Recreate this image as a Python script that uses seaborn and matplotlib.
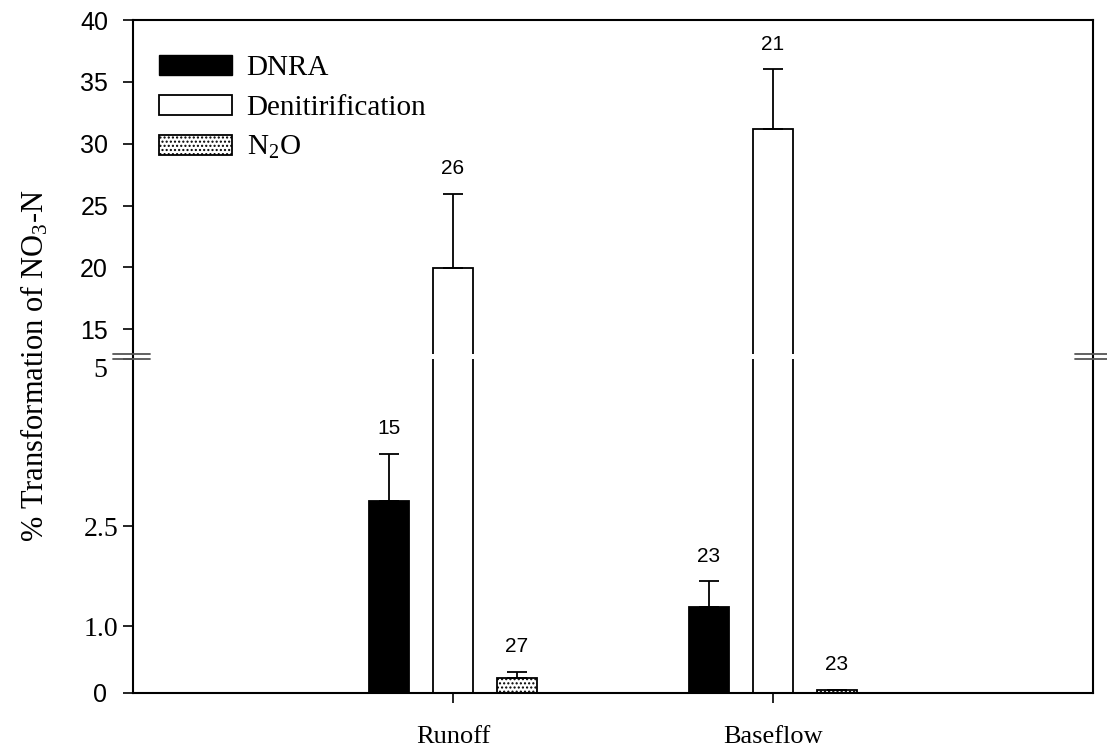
import numpy as np
import pandas as pd
import matplotlib
matplotlib.use("Agg")
import matplotlib.pyplot as plt
import matplotlib.transforms as mtransforms
import seaborn as sns
from matplotlib.patches import Patch
from matplotlib.lines import Line2D

# ---------------- data ----------------
categories = ["Runoff", "Baseflow"]
processes = ["DNRA", "Denitirification", "N2O"]
dnra = [2.88, 1.28]
dnra_se = [0.70, 0.39]
denit = [19.95, 31.2]
denit_se = [6.0, 4.8]
n2o = [0.22, 0.04]
n2o_se = [0.10, 0.01]
n_dnra = [15, 23]
n_denit = [26, 21]
n_n2o = [27, 23]
legend_labels = ["DNRA", "Denitirification", "N$_2$O"]
ylabel = "% Transformation of NO$_3$-N"
upper_ticks = [15, 20, 25, 30, 35, 40]
lower_ticks = [0, 1.0, 2.5, 5]
lower_ticklabels = ["0", "1.0", "2.5", "5"]

values = {"DNRA": dnra, "Denitirification": denit, "N2O": n2o}
errors = {"DNRA": dnra_se, "Denitirification": denit_se, "N2O": n2o_se}
counts = {"DNRA": n_dnra, "Denitirification": n_denit, "N2O": n_n2o}

rows = []
for p in processes:
    for i, c in enumerate(categories):
        rows.append({"site": c, "process": p, "value": values[p][i]})
df = pd.DataFrame(rows)

# ---------------- style ----------------
sns.set_style("ticks")
plt.rcParams["font.family"] = ["Liberation Serif", "DejaVu Serif"]
plt.rcParams["mathtext.fontset"] = "custom"
plt.rcParams["mathtext.rm"] = "Liberation Serif"
plt.rcParams["mathtext.it"] = "Liberation Serif:italic"
for k in ["text.color", "axes.labelcolor", "xtick.color", "ytick.color", "axes.edgecolor"]:
    plt.rcParams[k] = "black"
plt.rcParams["hatch.linewidth"] = 1.0
plt.rcParams["hatch.color"] = "#444444"

palette = {"DNRA": "black", "Denitirification": "white", "N2O": "white"}

fig = plt.figure(figsize=(11.07, 7.48), dpi=100)
L, W = 133 / 1107, 960 / 1107
H = 334 / 748
bot_y = (748 - 693) / 748
top_y = (748 - 354) / 748
ax_top = fig.add_axes([L, top_y, W, H])
ax_bot = fig.add_axes([L, bot_y, W, H])

for ax in (ax_top, ax_bot):
    sns.barplot(data=df, x="site", y="value", hue="process", order=categories,
                hue_order=processes, palette=palette, edgecolor="black",
                linewidth=1.3, width=0.6, gap=0.39, errorbar=None, legend=False,
                saturation=1, ax=ax)
    for cont, proc in zip(ax.containers, processes):
        if proc == "N2O":
            for bar in cont:
                bar.set_hatch("....")
    ax.set_xlim(-1, 2)
    ax.set_xlabel("")
    ax.set_ylabel("")
    ax.tick_params(axis="both", direction="out", length=7, width=1.2)
    for s in ax.spines.values():
        s.set_linewidth(1.5)

# errors and n labels
for cont, proc in zip(ax_bot.containers, processes):
    for bar in cont:
        xc = bar.get_x() + bar.get_width() / 2
        ci = int(round(xc))
        val = values[proc][ci]
        err = errors[proc][ci]
        target = ax_top if val > 5 else ax_bot
        target.errorbar(xc, val, yerr=[[0], [err]], fmt="none", ecolor="black",
                        elinewidth=1.3, capsize=7, capthick=1.3, zorder=3)
        target.annotate(str(counts[proc][ci]), (xc, val + err), xytext=(0, 18),
                        textcoords="offset points", ha="center", va="center",
                        fontfamily="Liberation Sans", fontsize=15)

# upper axis
ax_top.set_ylim(13, 40)
ax_top.set_yticks(upper_ticks)
ax_top.set_yticklabels([str(t) for t in upper_ticks], fontfamily="Liberation Sans", fontsize=18)
ax_top.tick_params(axis="y", pad=11)
ax_top.spines["bottom"].set_visible(False)
ax_top.tick_params(axis="x", bottom=False, labelbottom=False)

# lower axis
ax_bot.set_ylim(0, 5)
ax_bot.set_yticks(lower_ticks)
ax_bot.set_yticklabels(lower_ticklabels, fontsize=20)
ylabs = ax_bot.get_yticklabels()
ylabs[0].set_fontfamily("Liberation Sans")
ylabs[0].set_fontsize(18)
ylabs[0].set_transform(ylabs[0].get_transform() +
                       mtransforms.ScaledTranslation(-8 / 72, 0, fig.dpi_scale_trans))
ylabs[-1].set_transform(ylabs[-1].get_transform() +
                        mtransforms.ScaledTranslation(-8 / 72, -6 / 72, fig.dpi_scale_trans))
ax_bot.spines["top"].set_visible(False)
ax_bot.set_xticks([0, 1])
ax_bot.set_xticklabels(categories, fontsize=19)
ax_bot.tick_params(axis="x", length=7, pad=17)

# continuous spines through the break and break marks
y0 = bot_y + H
y1 = top_y
for x in (L, L + W):
    fig.add_artist(Line2D([x, x], [y0, y1], color="black", lw=1.5, transform=fig.transFigure))
for yy in (y0, y1):
    fig.add_artist(Line2D([113 / 1107, 150 / 1107], [yy, yy], color="#555555", lw=1.3,
                          transform=fig.transFigure))
    fig.add_artist(Line2D([1075 / 1107, 1.0], [yy, yy], color="#555555", lw=1.3,
                          transform=fig.transFigure))

fig.text(35 / 1107, 1 - 366 / 748, ylabel, rotation=90, ha="center", va="center", fontsize=22)

handles = [Patch(facecolor="black", edgecolor="black"),
           Patch(facecolor="white", edgecolor="black", linewidth=1.3),
           Patch(facecolor="white", edgecolor="black", hatch="....", linewidth=1.3)]
ax_top.legend(handles, legend_labels, loc="upper left", bbox_to_anchor=(0.015, 0.93),
              frameon=False, fontsize=21, handlelength=2.5, handleheight=0.7,
              handletextpad=0.5, labelspacing=0.45, borderaxespad=0)

fig.savefig("out.png", dpi=100)
